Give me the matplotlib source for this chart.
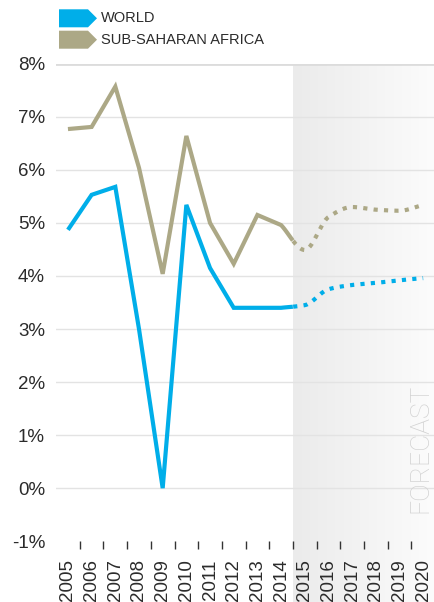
import numpy as np
import matplotlib
matplotlib.use("Agg")
import matplotlib.pyplot as plt
from matplotlib.patches import Polygon
from matplotlib.colors import LinearSegmentedColormap

plt.rcParams["font.family"] = ["Liberation Sans", "DejaVu Sans"]

# ---- data -------------------------------------------------------------
years = [2005, 2006, 2007, 2008, 2009, 2010, 2011, 2012,
         2013, 2014, 2015, 2016, 2017, 2018, 2019, 2020]
world = [4.87, 5.53, 5.68, 3.0, 0.0, 5.34, 4.15, 3.40,
         3.40, 3.40, 3.45, 3.75, 3.83, 3.87, 3.92, 3.96]
ssa = [6.77, 6.81, 7.57, 6.04, 4.04, 6.64, 5.00, 4.23,
       5.15, 4.96, 4.49, 5.11, 5.30, 5.25, 5.23, 5.34]
series_names = ["WORLD", "SUB-SAHARAN AFRICA"]
first_forecast_year = 2015
y_ticks = [-1, 0, 1, 2, 3, 4, 5, 6, 7, 8]

BLUE = "#00aee9"
KHAKI = "#aca886"
TEXT = "#2b2b2b"


def pchip(x, y, xs):
    """Monotone cubic Hermite interpolation (Fritsch-Carlson)."""
    x = np.asarray(x, float)
    y = np.asarray(y, float)
    h = np.diff(x)
    d = np.diff(y) / h
    m = np.zeros_like(y)
    m[0], m[-1] = d[0], d[-1]
    for i in range(1, len(y) - 1):
        if d[i - 1] * d[i] > 0:
            w1 = 2 * h[i] + h[i - 1]
            w2 = h[i] + 2 * h[i - 1]
            m[i] = (w1 + w2) / (w1 / d[i - 1] + w2 / d[i])
    idx = np.clip(np.searchsorted(x, xs) - 1, 0, len(x) - 2)
    t = (xs - x[idx]) / h[idx]
    h00 = 2 * t**3 - 3 * t**2 + 1
    h10 = t**3 - 2 * t**2 + t
    h01 = -2 * t**3 + 3 * t**2
    h11 = t**3 - t**2
    return (h00 * y[idx] + h10 * h[idx] * m[idx]
            + h01 * y[idx + 1] + h11 * h[idx] * m[idx + 1])


fig = plt.figure(figsize=(4.35, 6.02), dpi=100)
ax = fig.add_axes([0.129, 0.101, 0.871, 0.793])
ax.set_facecolor("none")
ax.set_zorder(2)

n = len(years)
xpos = np.arange(n)
fc = years.index(first_forecast_year)
boundary = fc - 0.5

ax.set_xlim(-0.5, n - 0.5)
ax.set_ylim(-1, 8)

# forecast shading (gradient band reaching down through the labels)
fig.canvas.draw()
x0 = fig.transFigure.inverted().transform(ax.transData.transform((boundary, 8)))
bg = fig.add_axes([x0[0], 0, 1 - x0[0], x0[1]])
bg.set_zorder(0)
grad = np.linspace(0, 1, 256)[None, :]
cmap = LinearSegmentedColormap.from_list("fc", ["#ebebeb", "#fcfcfc"])
bg.imshow(grad, aspect="auto", cmap=cmap, extent=(0, 1, 0, 1))
bg.axis("off")

# grid lines
for v in range(0, 9):
    ax.axhline(v, color="#e3e3e3" if v < 8 else "#dcdcdc",
               lw=1.0 if v < 8 else 2.0, zorder=1)

# series: straight segments for history, smooth dotted curve for forecast
for vals, col in ((world, BLUE), (ssa, KHAKI)):
    vals = np.asarray(vals, float)
    xs = np.linspace(fc - 1, n - 1, 400)
    ys = pchip(xpos[fc - 1:], vals[fc - 1:], xs)
    sel = (xs > fc - 1) & (xs <= boundary)
    hist_x = np.concatenate([xpos[:fc], xs[sel]])
    hist_y = np.concatenate([vals[:fc], ys[sel]])
    ax.plot(hist_x, hist_y, color=col, lw=3.0, solid_capstyle="butt",
            solid_joinstyle="miter", zorder=3)
    m = xs >= boundary
    ax.plot(xs[m], ys[m], color=col, lw=3.0, dash_capstyle="butt",
            linestyle=(0, (1, 1.5)), zorder=3)

# axes styling
for s in ax.spines.values():
    s.set_visible(False)
ax.set_yticks(y_ticks)
ax.set_yticklabels([f"{v}%" for v in y_ticks])
ax.tick_params(axis="y", length=0, pad=8, labelsize=13.5, labelcolor=TEXT)

ax.set_xticks(np.arange(n) + 0.5)
ax.set_xticklabels([])
ax.tick_params(axis="x", which="major", length=6, width=1, color="#333333",
               direction="out")
ax.set_xticks(xpos, minor=True)
ax.set_xticklabels([str(y) for y in years], minor=True, rotation=90,
                   fontsize=13.5, color=TEXT)
ax.tick_params(axis="x", which="minor", length=0, pad=13)

ax.text(n - 1.1, -0.47, "FORECAST", rotation=90, ha="center", va="bottom",
        fontsize=19, color="#d2d2d2", family=["Roboto", "Liberation Sans"],
        fontweight="light", zorder=4, clip_on=False)

# legend with arrow-shaped swatches
W, H = 435.0, 602.0
for i, (name, col) in enumerate(zip(series_names, (BLUE, KHAKI))):
    top = 9.3 + i * 21.4
    bot = top + 18.0
    mid = (top + bot) / 2
    pts = [(59, top), (88, top), (97, mid), (88, bot), (59, bot)]
    fig.patches.append(Polygon([(px / W, 1 - py / H) for px, py in pts],
                               closed=True, facecolor=col, edgecolor="none",
                               transform=fig.transFigure))
    fig.text(101 / W, 1 - mid / H, name, fontsize=10.5, color=TEXT,
             ha="left", va="center")

fig.savefig("out.png", dpi=100)
